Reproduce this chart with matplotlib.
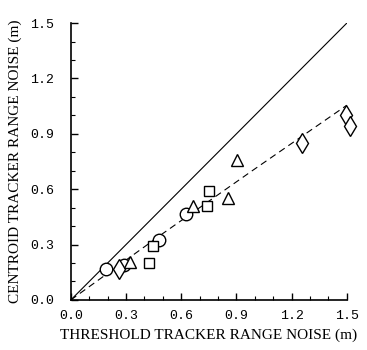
import matplotlib
matplotlib.use("Agg")
import matplotlib.pyplot as plt
from matplotlib.ticker import MultipleLocator

# data (metres)
circle_x = [0.19, 0.29, 0.48, 0.625]
circle_y = [0.165, 0.19, 0.325, 0.466]
diamond_x = [0.26, 1.255, 1.495, 1.515]
diamond_y = [0.17, 0.85, 1.0, 0.94]
triangle_x = [0.32, 0.665, 0.855, 0.905]
triangle_y = [0.205, 0.51, 0.55, 0.76]
square_x = [0.425, 0.445, 0.74, 0.75]
square_y = [0.2, 0.29, 0.51, 0.59]

ref_x = [0.0, 1.5]
ref_y = [0.0, 1.5]
fit_x = [0.0, 0.5, 1.0, 1.5]
fit_y = [0.0, 0.36, 0.71, 1.055]

ticks = [0.0, 0.3, 0.6, 0.9, 1.2, 1.5]
tick_labels = ["0.0", "0.3", "0.6", "0.9", "1.2", "1.5"]

fig = plt.figure(figsize=(3.67, 3.5), dpi=100)
ax = fig.add_axes([0.193, 0.143, 0.752, 0.791])

ax.plot(ref_x, ref_y, color="black", lw=0.8)
ax.plot(fit_x, fit_y, color="black", lw=0.8, dashes=(6, 4))

kw = dict(linestyle="none", mfc="white", mec="black", mew=1.0, clip_on=False)
ax.plot(circle_x, circle_y, marker="o", ms=9, **kw)
ax.plot(diamond_x, diamond_y, marker="d", ms=10.5, **kw)
ax.plot(triangle_x, triangle_y, marker="^", ms=8.5, **kw)
ax.plot(square_x, square_y, marker="s", ms=7.5, **kw)

ax.set_xlim(0, 1.5)
ax.set_ylim(0, 1.5)
for s in ["top", "right"]:
    ax.spines[s].set_visible(False)
for s in ["left", "bottom"]:
    ax.spines[s].set_linewidth(1.2)

ax.set_xticks(ticks)
ax.set_yticks(ticks)
ax.xaxis.set_minor_locator(MultipleLocator(0.1))
ax.yaxis.set_minor_locator(MultipleLocator(0.1))
ax.set_xticklabels(tick_labels, family="Liberation Mono", fontsize=9.5)
ax.set_yticklabels(tick_labels, family="Liberation Mono", fontsize=9.5)
ax.tick_params(which="major", direction="in", length=5, width=1.0)
ax.tick_params(which="minor", direction="in", length=3, width=0.8)
ax.tick_params(axis="x", which="major", pad=7)
ax.tick_params(axis="y", which="major", pad=12)

ax.set_xlabel("THRESHOLD TRACKER RANGE NOISE (m)", family="Liberation Serif",
              fontsize=11, labelpad=5)
ax.set_ylabel("CENTROID TRACKER RANGE NOISE (m)", family="Liberation Serif",
              fontsize=11, labelpad=6)

fig.savefig("out.png", dpi=100)
